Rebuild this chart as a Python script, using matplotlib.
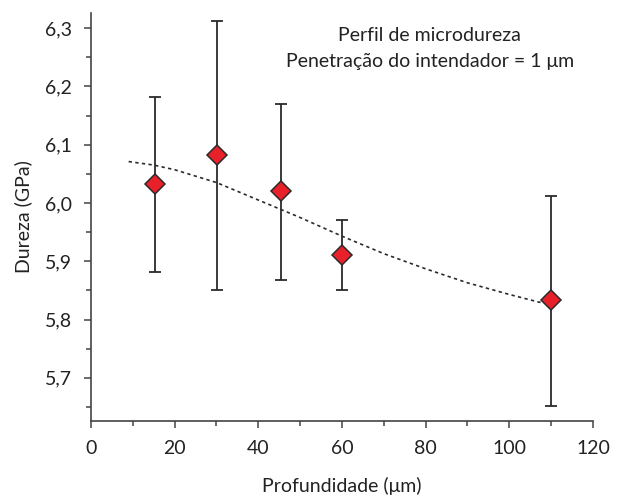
import matplotlib
matplotlib.use('Agg')
import matplotlib.pyplot as plt
from matplotlib.ticker import MultipleLocator, FuncFormatter

# measured hardness points (depth in um, hardness in GPa)
depth = [15.3, 30.1, 45.3, 60.1, 110.0]
hardness = [6.032, 6.082, 6.021, 5.911, 5.833]
err_low = [5.881, 5.850, 5.868, 5.851, 5.652]
err_high = [6.182, 6.312, 6.169, 5.971, 6.012]

# dotted trend curve
trend_x = [9, 15, 20, 30, 40, 45, 50, 60, 70, 80, 90, 100, 107, 110]
trend_y = [6.071, 6.065, 6.057, 6.035, 6.005, 5.990, 5.975, 5.943,
           5.913, 5.887, 5.863, 5.843, 5.830, 5.827]

plt.rcParams['font.family'] = ['Lato', 'DejaVu Sans']

fig = plt.figure(figsize=(6.19, 4.97), dpi=100)
ax = fig.add_axes([0.147, 0.153, 0.811, 0.821])

dark = '#2b2b2b'
fs = 14

ax.plot(trend_x, trend_y, color=dark, linestyle=(0, (2, 2)), linewidth=1.2, zorder=2)

yerr = [[h - l for h, l in zip(hardness, err_low)],
        [u - h for h, u in zip(hardness, err_high)]]
ax.errorbar(depth, hardness, yerr=yerr, fmt='none', ecolor=dark,
            elinewidth=1.3, capsize=4, capthick=1.3, zorder=3)
ax.plot(depth, hardness, linestyle='none', marker='D', markersize=10,
        markerfacecolor='#e8202a', markeredgecolor=dark, markeredgewidth=1.1, zorder=4)

ax.set_xlim(0, 120)
ax.set_ylim(5.626, 6.326)

ax.xaxis.set_major_locator(MultipleLocator(20))
ax.xaxis.set_minor_locator(MultipleLocator(10))
ax.yaxis.set_major_locator(MultipleLocator(0.1))
ax.yaxis.set_minor_locator(MultipleLocator(0.05))
ax.yaxis.set_major_formatter(FuncFormatter(lambda v, p: f'{v:.1f}'.replace('.', ',')))

for s in ['top', 'right']:
    ax.spines[s].set_visible(False)
for s in ['left', 'bottom']:
    ax.spines[s].set_linewidth(1.2)
    ax.spines[s].set_color('#444444')

ax.tick_params(which='major', direction='out', length=5, width=1.1, color='#444444',
               labelsize=fs, labelcolor='#222222')
ax.tick_params(which='minor', direction='out', length=3.5, width=1.1, color='#444444')
ax.tick_params(axis='y', which='major', pad=9)
ax.tick_params(axis='x', which='major', pad=9)

ax.set_xlabel('Profundidade (μm)', fontsize=fs, color='#222222', labelpad=14)
ax.set_ylabel('Dureza (GPa)', fontsize=fs, color='#222222', labelpad=9)

ax.text(81, 6.288, 'Perfil de microdureza', ha='center', va='center',
        fontsize=fs, color='#222222')
ax.text(81, 6.242, 'Penetração do intendador = 1 μm', ha='center', va='center',
        fontsize=fs, color='#222222')

fig.savefig('out.png', dpi=100)
